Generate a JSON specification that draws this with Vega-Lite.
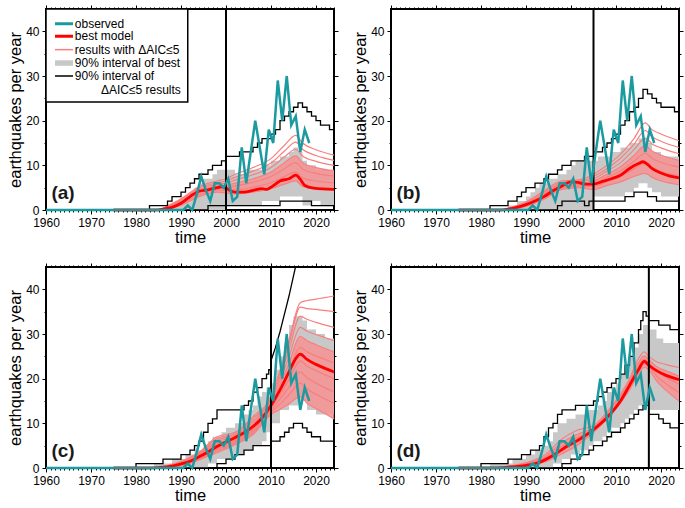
{
"$schema":"https://vega.github.io/schema/vega-lite/v6.json",
"background":"white",
"padding":{"left":6,"top":3,"right":0,"bottom":0},
"datasets":{
"obs":[{"x":1960,"y":0},{"x":1990.5,"y":0},{"x":1991.5,"y":1},{"x":1992.5,"y":0},{"x":1993.5,"y":3.5},{"x":1994.5,"y":7.5},{"x":1995.5,"y":4.5},{"x":1996.5,"y":2},{"x":1997.5,"y":6},{"x":1998.5,"y":6},{"x":1999.5,"y":5},{"x":2000.5,"y":7},{"x":2001.5,"y":2},{"x":2002.5,"y":3},{"x":2003.5,"y":14},{"x":2004.5,"y":6},{"x":2005.5,"y":13},{"x":2006.5,"y":20},{"x":2007.5,"y":14},{"x":2008.5,"y":8},{"x":2009.5,"y":18},{"x":2010.5,"y":15},{"x":2011.5,"y":29},{"x":2012.5,"y":20},{"x":2013.5,"y":30},{"x":2014.5,"y":19},{"x":2015.5,"y":21},{"x":2016.5,"y":13},{"x":2017.5,"y":18},{"x":2018.5,"y":15}],
"best":[
{"p":"a","x":1975,"y":0},{"p":"a","x":1984,"y":0},{"p":"a","x":1986,"y":0.2},{"p":"a","x":1988,"y":0.6},{"p":"a","x":1990,"y":1.5},{"p":"a","x":1992,"y":3},{"p":"a","x":1994,"y":4.2},{"p":"a","x":1996,"y":4.5},{"p":"a","x":1998,"y":5},{"p":"a","x":1999,"y":5.2},{"p":"a","x":2000,"y":4.9},{"p":"a","x":2001,"y":4.3},{"p":"a","x":2002,"y":4.0},{"p":"a","x":2004,"y":4.0},{"p":"a","x":2006,"y":4.4},{"p":"a","x":2008,"y":4.8},{"p":"a","x":2009,"y":4.6},{"p":"a","x":2010,"y":5.1},{"p":"a","x":2012,"y":6.5},{"p":"a","x":2014,"y":7.0},{"p":"a","x":2015.5,"y":7.8},{"p":"a","x":2016.5,"y":6.9},{"p":"a","x":2017.5,"y":5.5},{"p":"a","x":2019.5,"y":4.9},{"p":"a","x":2024,"y":4.6},
{"p":"b","x":1975,"y":0},{"p":"b","x":1984,"y":0},{"p":"b","x":1986,"y":0.2},{"p":"b","x":1988,"y":0.6},{"p":"b","x":1990,"y":1.2},{"p":"b","x":1992,"y":2.0},{"p":"b","x":1994,"y":3.0},{"p":"b","x":1996,"y":4.3},{"p":"b","x":1998,"y":5.4},{"p":"b","x":2000,"y":6.3},{"p":"b","x":2001.5,"y":6.2},{"p":"b","x":2003,"y":5.8},{"p":"b","x":2005,"y":5.8},{"p":"b","x":2007,"y":6.4},{"p":"b","x":2009,"y":7.0},{"p":"b","x":2011,"y":7.8},{"p":"b","x":2013,"y":9.3},{"p":"b","x":2015,"y":10.4},{"p":"b","x":2016,"y":10.8},{"p":"b","x":2017,"y":10.2},{"p":"b","x":2018,"y":9.3},{"p":"b","x":2020,"y":8.3},{"p":"b","x":2022,"y":7.6},{"p":"b","x":2024,"y":7.2},
{"p":"c","x":1975,"y":0},{"p":"c","x":1982,"y":0},{"p":"c","x":1985,"y":0.1},{"p":"c","x":1988,"y":0.4},{"p":"c","x":1990,"y":0.9},{"p":"c","x":1992,"y":1.5},{"p":"c","x":1994,"y":2.5},{"p":"c","x":1996,"y":3.6},{"p":"c","x":1998,"y":4.8},{"p":"c","x":2000,"y":5.8},{"p":"c","x":2002,"y":6.8},{"p":"c","x":2004,"y":7.9},{"p":"c","x":2006,"y":9.3},{"p":"c","x":2008,"y":11.2},{"p":"c","x":2010,"y":14.0},{"p":"c","x":2012,"y":17.5},{"p":"c","x":2014,"y":21.5},{"p":"c","x":2015.5,"y":24.5},{"p":"c","x":2016.5,"y":25.5},{"p":"c","x":2018,"y":24.3},{"p":"c","x":2020,"y":23.2},{"p":"c","x":2022,"y":22.3},{"p":"c","x":2024,"y":21.5},
{"p":"d","x":1975,"y":0},{"p":"d","x":1982,"y":0},{"p":"d","x":1986,"y":0.2},{"p":"d","x":1990,"y":0.6},{"p":"d","x":1993,"y":1.3},{"p":"d","x":1996,"y":2.8},{"p":"d","x":1999,"y":4.8},{"p":"d","x":2002,"y":6.5},{"p":"d","x":2005,"y":8.6},{"p":"d","x":2008,"y":11.3},{"p":"d","x":2011,"y":15.0},{"p":"d","x":2013,"y":18.5},{"p":"d","x":2015,"y":22.0},{"p":"d","x":2016.3,"y":23.9},{"p":"d","x":2017.3,"y":23.0},{"p":"d","x":2019,"y":21.8},{"p":"d","x":2021,"y":20.8},{"p":"d","x":2024,"y":19.8}],
"ens":[
{"p":"a","i":1,"x":1986,"y":0},{"p":"a","i":1,"x":1990,"y":1.0},{"p":"a","i":1,"x":1994,"y":3.0},{"p":"a","i":1,"x":1998,"y":4.0},{"p":"a","i":1,"x":2000,"y":3.8},{"p":"a","i":1,"x":2002,"y":3.6},{"p":"a","i":1,"x":2006,"y":4.0},{"p":"a","i":1,"x":2010,"y":4.8},{"p":"a","i":1,"x":2013,"y":5.8},{"p":"a","i":1,"x":2015.5,"y":6.5},{"p":"a","i":1,"x":2017,"y":5.3},{"p":"a","i":1,"x":2020,"y":4.7},{"p":"a","i":1,"x":2024,"y":4.5},
{"p":"a","i":2,"x":1986,"y":0.1},{"p":"a","i":2,"x":1990,"y":1.3},{"p":"a","i":2,"x":1994,"y":3.4},{"p":"a","i":2,"x":1998,"y":4.5},{"p":"a","i":2,"x":2000,"y":4.4},{"p":"a","i":2,"x":2002,"y":4.5},{"p":"a","i":2,"x":2006,"y":5.1},{"p":"a","i":2,"x":2010,"y":6.1},{"p":"a","i":2,"x":2013,"y":7.5},{"p":"a","i":2,"x":2015.5,"y":8.5},{"p":"a","i":2,"x":2017,"y":7.2},{"p":"a","i":2,"x":2020,"y":6.5},{"p":"a","i":2,"x":2024,"y":6.1},
{"p":"a","i":3,"x":1986,"y":0.2},{"p":"a","i":3,"x":1990,"y":1.6},{"p":"a","i":3,"x":1994,"y":3.9},{"p":"a","i":3,"x":1998,"y":5.0},{"p":"a","i":3,"x":2000,"y":5.1},{"p":"a","i":3,"x":2002,"y":5.4},{"p":"a","i":3,"x":2006,"y":6.2},{"p":"a","i":3,"x":2010,"y":7.5},{"p":"a","i":3,"x":2013,"y":9.3},{"p":"a","i":3,"x":2015.5,"y":10.6},{"p":"a","i":3,"x":2017,"y":9.2},{"p":"a","i":3,"x":2020,"y":8.2},{"p":"a","i":3,"x":2024,"y":7.6},
{"p":"a","i":4,"x":1986,"y":0.2},{"p":"a","i":4,"x":1990,"y":1.8},{"p":"a","i":4,"x":1994,"y":4.2},{"p":"a","i":4,"x":1998,"y":5.4},{"p":"a","i":4,"x":2000,"y":5.6},{"p":"a","i":4,"x":2002,"y":6.0},{"p":"a","i":4,"x":2006,"y":7.0},{"p":"a","i":4,"x":2010,"y":8.5},{"p":"a","i":4,"x":2013,"y":10.6},{"p":"a","i":4,"x":2015.5,"y":12.1},{"p":"a","i":4,"x":2017,"y":10.6},{"p":"a","i":4,"x":2020,"y":9.5},{"p":"a","i":4,"x":2024,"y":8.8},
{"p":"a","i":5,"x":1986,"y":0.3},{"p":"a","i":5,"x":1990,"y":2.1},{"p":"a","i":5,"x":1994,"y":4.5},{"p":"a","i":5,"x":1998,"y":5.8},{"p":"a","i":5,"x":2000,"y":6.0},{"p":"a","i":5,"x":2002,"y":6.7},{"p":"a","i":5,"x":2006,"y":7.9},{"p":"a","i":5,"x":2010,"y":9.5},{"p":"a","i":5,"x":2013,"y":11.9},{"p":"a","i":5,"x":2015.5,"y":13.6},{"p":"a","i":5,"x":2017,"y":12.1},{"p":"a","i":5,"x":2020,"y":10.9},{"p":"a","i":5,"x":2024,"y":10.0},
{"p":"a","i":6,"x":1986,"y":0.3},{"p":"a","i":6,"x":1990,"y":2.3},{"p":"a","i":6,"x":1994,"y":4.9},{"p":"a","i":6,"x":1998,"y":6.1},{"p":"a","i":6,"x":2000,"y":6.5},{"p":"a","i":6,"x":2002,"y":7.3},{"p":"a","i":6,"x":2006,"y":8.7},{"p":"a","i":6,"x":2010,"y":10.5},{"p":"a","i":6,"x":2013,"y":13.2},{"p":"a","i":6,"x":2015.5,"y":15.2},{"p":"a","i":6,"x":2017,"y":13.6},{"p":"a","i":6,"x":2020,"y":12.2},{"p":"a","i":6,"x":2024,"y":11.1},
{"p":"a","i":7,"x":1986,"y":0.4},{"p":"a","i":7,"x":1990,"y":2.5},{"p":"a","i":7,"x":1994,"y":5.2},{"p":"a","i":7,"x":1998,"y":6.5},{"p":"a","i":7,"x":2000,"y":7.0},{"p":"a","i":7,"x":2002,"y":8.0},{"p":"a","i":7,"x":2006,"y":9.5},{"p":"a","i":7,"x":2010,"y":11.5},{"p":"a","i":7,"x":2013,"y":14.5},{"p":"a","i":7,"x":2015.5,"y":16.7},{"p":"a","i":7,"x":2017,"y":15.0},{"p":"a","i":7,"x":2020,"y":13.5},{"p":"a","i":7,"x":2024,"y":12.3},
{"p":"b","i":1,"x":1986,"y":0},{"p":"b","i":1,"x":1990,"y":0.8},{"p":"b","i":1,"x":1994,"y":2.4},{"p":"b","i":1,"x":1998,"y":4.6},{"p":"b","i":1,"x":2002,"y":5.0},{"p":"b","i":1,"x":2005,"y":4.6},{"p":"b","i":1,"x":2008,"y":5.5},{"p":"b","i":1,"x":2011,"y":6.3},{"p":"b","i":1,"x":2014,"y":7.5},{"p":"b","i":1,"x":2016.5,"y":8.2},{"p":"b","i":1,"x":2018,"y":7.3},{"p":"b","i":1,"x":2020,"y":6.5},{"p":"b","i":1,"x":2024,"y":5.7},
{"p":"b","i":2,"x":1986,"y":0.1},{"p":"b","i":2,"x":1990,"y":1.0},{"p":"b","i":2,"x":1994,"y":2.8},{"p":"b","i":2,"x":1998,"y":4.9},{"p":"b","i":2,"x":2002,"y":5.4},{"p":"b","i":2,"x":2005,"y":5.3},{"p":"b","i":2,"x":2008,"y":6.4},{"p":"b","i":2,"x":2011,"y":7.5},{"p":"b","i":2,"x":2014,"y":9.2},{"p":"b","i":2,"x":2016.5,"y":10.5},{"p":"b","i":2,"x":2018,"y":9.4},{"p":"b","i":2,"x":2020,"y":8.6},{"p":"b","i":2,"x":2024,"y":7.7},
{"p":"b","i":3,"x":1986,"y":0.2},{"p":"b","i":3,"x":1990,"y":1.2},{"p":"b","i":3,"x":1994,"y":3.1},{"p":"b","i":3,"x":1998,"y":5.3},{"p":"b","i":3,"x":2002,"y":5.7},{"p":"b","i":3,"x":2005,"y":6.0},{"p":"b","i":3,"x":2008,"y":7.3},{"p":"b","i":3,"x":2011,"y":8.8},{"p":"b","i":3,"x":2014,"y":10.9},{"p":"b","i":3,"x":2016.5,"y":12.7},{"p":"b","i":3,"x":2018,"y":11.6},{"p":"b","i":3,"x":2020,"y":10.7},{"p":"b","i":3,"x":2024,"y":9.6},
{"p":"b","i":4,"x":1986,"y":0.2},{"p":"b","i":4,"x":1990,"y":1.4},{"p":"b","i":4,"x":1994,"y":3.4},{"p":"b","i":4,"x":1998,"y":5.6},{"p":"b","i":4,"x":2002,"y":6.0},{"p":"b","i":4,"x":2005,"y":6.5},{"p":"b","i":4,"x":2008,"y":8.0},{"p":"b","i":4,"x":2011,"y":9.7},{"p":"b","i":4,"x":2014,"y":12.2},{"p":"b","i":4,"x":2016.5,"y":14.4},{"p":"b","i":4,"x":2018,"y":13.2},{"p":"b","i":4,"x":2020,"y":12.3},{"p":"b","i":4,"x":2024,"y":11.1},
{"p":"b","i":5,"x":1986,"y":0.3},{"p":"b","i":5,"x":1990,"y":1.5},{"p":"b","i":5,"x":1994,"y":3.7},{"p":"b","i":5,"x":1998,"y":5.9},{"p":"b","i":5,"x":2002,"y":6.3},{"p":"b","i":5,"x":2005,"y":7.0},{"p":"b","i":5,"x":2008,"y":8.7},{"p":"b","i":5,"x":2011,"y":10.6},{"p":"b","i":5,"x":2014,"y":13.5},{"p":"b","i":5,"x":2016.5,"y":16.1},{"p":"b","i":5,"x":2018,"y":14.8},{"p":"b","i":5,"x":2020,"y":13.9},{"p":"b","i":5,"x":2024,"y":12.6},
{"p":"b","i":6,"x":1986,"y":0.3},{"p":"b","i":6,"x":1990,"y":1.7},{"p":"b","i":6,"x":1994,"y":4.0},{"p":"b","i":6,"x":1998,"y":6.2},{"p":"b","i":6,"x":2002,"y":6.5},{"p":"b","i":6,"x":2005,"y":7.5},{"p":"b","i":6,"x":2008,"y":9.3},{"p":"b","i":6,"x":2011,"y":11.6},{"p":"b","i":6,"x":2014,"y":14.7},{"p":"b","i":6,"x":2016.5,"y":17.8},{"p":"b","i":6,"x":2018,"y":16.4},{"p":"b","i":6,"x":2020,"y":15.4},{"p":"b","i":6,"x":2024,"y":14.0},
{"p":"b","i":7,"x":1986,"y":0.4},{"p":"b","i":7,"x":1990,"y":1.8},{"p":"b","i":7,"x":1994,"y":4.3},{"p":"b","i":7,"x":1998,"y":6.5},{"p":"b","i":7,"x":2002,"y":6.8},{"p":"b","i":7,"x":2005,"y":8.0},{"p":"b","i":7,"x":2008,"y":10.0},{"p":"b","i":7,"x":2011,"y":12.5},{"p":"b","i":7,"x":2014,"y":16.0},{"p":"b","i":7,"x":2016.5,"y":19.5},{"p":"b","i":7,"x":2018,"y":18.0},{"p":"b","i":7,"x":2020,"y":17.0},{"p":"b","i":7,"x":2024,"y":15.5},
{"p":"c","i":1,"x":1986,"y":0},{"p":"c","i":1,"x":1990,"y":0.5},{"p":"c","i":1,"x":1994,"y":1.8},{"p":"c","i":1,"x":1998,"y":3.4},{"p":"c","i":1,"x":2002,"y":5.2},{"p":"c","i":1,"x":2006,"y":7.5},{"p":"c","i":1,"x":2010,"y":12.0},{"p":"c","i":1,"x":2012,"y":13.1},{"p":"c","i":1,"x":2014,"y":14.4},{"p":"c","i":1,"x":2016.5,"y":16.0},{"p":"c","i":1,"x":2018,"y":14.5},{"p":"c","i":1,"x":2020,"y":13.3},{"p":"c","i":1,"x":2024,"y":11.0},
{"p":"c","i":2,"x":1986,"y":0},{"p":"c","i":2,"x":1990,"y":0.6},{"p":"c","i":2,"x":1994,"y":2.0},{"p":"c","i":2,"x":1998,"y":3.8},{"p":"c","i":2,"x":2002,"y":5.5},{"p":"c","i":2,"x":2006,"y":7.9},{"p":"c","i":2,"x":2010,"y":12.5},{"p":"c","i":2,"x":2012,"y":14.3},{"p":"c","i":2,"x":2014,"y":16.4},{"p":"c","i":2,"x":2016.5,"y":19.0},{"p":"c","i":2,"x":2018,"y":17.7},{"p":"c","i":2,"x":2020,"y":16.5},{"p":"c","i":2,"x":2024,"y":14.5},
{"p":"c","i":3,"x":1986,"y":0.1},{"p":"c","i":3,"x":1990,"y":0.7},{"p":"c","i":3,"x":1994,"y":2.2},{"p":"c","i":3,"x":1998,"y":4.2},{"p":"c","i":3,"x":2002,"y":5.8},{"p":"c","i":3,"x":2006,"y":8.4},{"p":"c","i":3,"x":2010,"y":13.0},{"p":"c","i":3,"x":2012,"y":15.4},{"p":"c","i":3,"x":2014,"y":18.1},{"p":"c","i":3,"x":2016.5,"y":21.5},{"p":"c","i":3,"x":2018,"y":20.2},{"p":"c","i":3,"x":2020,"y":19.0},{"p":"c","i":3,"x":2024,"y":17.0},
{"p":"c","i":4,"x":1986,"y":0.1},{"p":"c","i":4,"x":1990,"y":0.8},{"p":"c","i":4,"x":1994,"y":2.4},{"p":"c","i":4,"x":1998,"y":4.6},{"p":"c","i":4,"x":2002,"y":6.1},{"p":"c","i":4,"x":2006,"y":8.8},{"p":"c","i":4,"x":2010,"y":13.5},{"p":"c","i":4,"x":2012,"y":16.4},{"p":"c","i":4,"x":2014,"y":19.8},{"p":"c","i":4,"x":2016.5,"y":24.0},{"p":"c","i":4,"x":2018,"y":22.8},{"p":"c","i":4,"x":2020,"y":21.8},{"p":"c","i":4,"x":2024,"y":20.0},
{"p":"c","i":5,"x":1986,"y":0.1},{"p":"c","i":5,"x":1990,"y":0.9},{"p":"c","i":5,"x":1994,"y":2.6},{"p":"c","i":5,"x":1998,"y":5.0},{"p":"c","i":5,"x":2002,"y":6.4},{"p":"c","i":5,"x":2006,"y":9.3},{"p":"c","i":5,"x":2010,"y":14.0},{"p":"c","i":5,"x":2012,"y":17.6},{"p":"c","i":5,"x":2014,"y":21.8},{"p":"c","i":5,"x":2016.5,"y":27.0},{"p":"c","i":5,"x":2018,"y":26.0},{"p":"c","i":5,"x":2020,"y":25.1},{"p":"c","i":5,"x":2024,"y":23.5},
{"p":"c","i":6,"x":1986,"y":0.2},{"p":"c","i":6,"x":1990,"y":1.1},{"p":"c","i":6,"x":1994,"y":2.7},{"p":"c","i":6,"x":1998,"y":5.4},{"p":"c","i":6,"x":2002,"y":6.8},{"p":"c","i":6,"x":2006,"y":9.7},{"p":"c","i":6,"x":2010,"y":14.5},{"p":"c","i":6,"x":2012,"y":18.7},{"p":"c","i":6,"x":2014,"y":23.5},{"p":"c","i":6,"x":2016.5,"y":29.5},{"p":"c","i":6,"x":2018,"y":28.5},{"p":"c","i":6,"x":2020,"y":27.6},{"p":"c","i":6,"x":2024,"y":26.0},
{"p":"c","i":7,"x":1986,"y":0.2},{"p":"c","i":7,"x":1990,"y":1.2},{"p":"c","i":7,"x":1994,"y":2.9},{"p":"c","i":7,"x":1998,"y":5.8},{"p":"c","i":7,"x":2002,"y":7.1},{"p":"c","i":7,"x":2006,"y":10.2},{"p":"c","i":7,"x":2010,"y":15.0},{"p":"c","i":7,"x":2012,"y":19.6},{"p":"c","i":7,"x":2014,"y":24.9},{"p":"c","i":7,"x":2016.5,"y":31.5},{"p":"c","i":7,"x":2018,"y":30.6},{"p":"c","i":7,"x":2020,"y":29.9},{"p":"c","i":7,"x":2024,"y":28.5},
{"p":"c","i":8,"x":1986,"y":0.2},{"p":"c","i":8,"x":1990,"y":1.3},{"p":"c","i":8,"x":1994,"y":3.1},{"p":"c","i":8,"x":1998,"y":6.2},{"p":"c","i":8,"x":2002,"y":7.4},{"p":"c","i":8,"x":2006,"y":10.6},{"p":"c","i":8,"x":2010,"y":15.3},{"p":"c","i":8,"x":2012,"y":20.5},{"p":"c","i":8,"x":2014,"y":26.5},{"p":"c","i":8,"x":2016.5,"y":34.0},{"p":"c","i":8,"x":2018,"y":33.3},{"p":"c","i":8,"x":2020,"y":32.6},{"p":"c","i":8,"x":2024,"y":31.5},
{"p":"c","i":9,"x":1986,"y":0.3},{"p":"c","i":9,"x":1990,"y":1.4},{"p":"c","i":9,"x":1994,"y":3.3},{"p":"c","i":9,"x":1998,"y":6.6},{"p":"c","i":9,"x":2002,"y":7.7},{"p":"c","i":9,"x":2006,"y":11.1},{"p":"c","i":9,"x":2010,"y":15.6},{"p":"c","i":9,"x":2012,"y":21.3},{"p":"c","i":9,"x":2014,"y":27.8},{"p":"c","i":9,"x":2016.5,"y":36.0},{"p":"c","i":9,"x":2018,"y":35.7},{"p":"c","i":9,"x":2020,"y":35.5},{"p":"c","i":9,"x":2024,"y":35.0},
{"p":"c","i":10,"x":1986,"y":0.3},{"p":"c","i":10,"x":1990,"y":1.5},{"p":"c","i":10,"x":1994,"y":3.5},{"p":"c","i":10,"x":1998,"y":7.0},{"p":"c","i":10,"x":2002,"y":8.0},{"p":"c","i":10,"x":2006,"y":11.5},{"p":"c","i":10,"x":2010,"y":16.0},{"p":"c","i":10,"x":2012,"y":21.9},{"p":"c","i":10,"x":2014,"y":28.6},{"p":"c","i":10,"x":2016.5,"y":37.0},{"p":"c","i":10,"x":2018,"y":37.5},{"p":"c","i":10,"x":2020,"y":37.8},{"p":"c","i":10,"x":2024,"y":38.5},
{"p":"d","i":1,"x":1986,"y":0},{"p":"d","i":1,"x":1990,"y":0.3},{"p":"d","i":1,"x":1994,"y":1.3},{"p":"d","i":1,"x":1998,"y":3.2},{"p":"d","i":1,"x":2001,"y":4.8},{"p":"d","i":1,"x":2005,"y":8.0},{"p":"d","i":1,"x":2009,"y":12.0},{"p":"d","i":1,"x":2013,"y":17.5},{"p":"d","i":1,"x":2015,"y":21.0},{"p":"d","i":1,"x":2016.3,"y":22.5},{"p":"d","i":1,"x":2017.3,"y":22.0},{"p":"d","i":1,"x":2019,"y":19.5},{"p":"d","i":1,"x":2021,"y":17.5},{"p":"d","i":1,"x":2024,"y":15.0},
{"p":"d","i":2,"x":1986,"y":0.1},{"p":"d","i":2,"x":1990,"y":0.5},{"p":"d","i":2,"x":1994,"y":1.7},{"p":"d","i":2,"x":1998,"y":4.0},{"p":"d","i":2,"x":2001,"y":5.7},{"p":"d","i":2,"x":2005,"y":8.4},{"p":"d","i":2,"x":2009,"y":12.5},{"p":"d","i":2,"x":2013,"y":18.1},{"p":"d","i":2,"x":2015,"y":21.9},{"p":"d","i":2,"x":2016.3,"y":23.4},{"p":"d","i":2,"x":2017.3,"y":22.8},{"p":"d","i":2,"x":2019,"y":20.6},{"p":"d","i":2,"x":2021,"y":18.9},{"p":"d","i":2,"x":2024,"y":16.9},
{"p":"d","i":3,"x":1986,"y":0.2},{"p":"d","i":3,"x":1990,"y":0.8},{"p":"d","i":3,"x":1994,"y":2.1},{"p":"d","i":3,"x":1998,"y":4.9},{"p":"d","i":3,"x":2001,"y":6.6},{"p":"d","i":3,"x":2005,"y":8.8},{"p":"d","i":3,"x":2009,"y":12.9},{"p":"d","i":3,"x":2013,"y":18.8},{"p":"d","i":3,"x":2015,"y":22.8},{"p":"d","i":3,"x":2016.3,"y":24.3},{"p":"d","i":3,"x":2017.3,"y":23.5},{"p":"d","i":3,"x":2019,"y":21.7},{"p":"d","i":3,"x":2021,"y":20.4},{"p":"d","i":3,"x":2024,"y":18.8},
{"p":"d","i":4,"x":1986,"y":0.3},{"p":"d","i":4,"x":1990,"y":1.0},{"p":"d","i":4,"x":1994,"y":2.4},{"p":"d","i":4,"x":1998,"y":5.7},{"p":"d","i":4,"x":2001,"y":7.4},{"p":"d","i":4,"x":2005,"y":9.1},{"p":"d","i":4,"x":2009,"y":13.4},{"p":"d","i":4,"x":2013,"y":19.4},{"p":"d","i":4,"x":2015,"y":23.6},{"p":"d","i":4,"x":2016.3,"y":25.1},{"p":"d","i":4,"x":2017.3,"y":24.3},{"p":"d","i":4,"x":2019,"y":22.7},{"p":"d","i":4,"x":2021,"y":21.8},{"p":"d","i":4,"x":2024,"y":20.6},
{"p":"d","i":5,"x":1986,"y":0.4},{"p":"d","i":5,"x":1990,"y":1.2},{"p":"d","i":5,"x":1994,"y":2.8},{"p":"d","i":5,"x":1998,"y":6.5},{"p":"d","i":5,"x":2001,"y":8.3},{"p":"d","i":5,"x":2005,"y":9.5},{"p":"d","i":5,"x":2009,"y":13.8},{"p":"d","i":5,"x":2013,"y":20.0},{"p":"d","i":5,"x":2015,"y":24.5},{"p":"d","i":5,"x":2016.3,"y":26.0},{"p":"d","i":5,"x":2017.3,"y":25.0},{"p":"d","i":5,"x":2019,"y":23.8},{"p":"d","i":5,"x":2021,"y":23.2},{"p":"d","i":5,"x":2024,"y":22.5}],
"core":[
{"p":"a","x":1986,"lo":0,"hi":0.2},{"p":"a","x":1990,"lo":1.0,"hi":1.8},{"p":"a","x":1994,"lo":3.0,"hi":4.2},{"p":"a","x":1998,"lo":4.0,"hi":5.4},{"p":"a","x":2000,"lo":3.8,"hi":5.6},{"p":"a","x":2002,"lo":3.6,"hi":6.0},{"p":"a","x":2006,"lo":4.0,"hi":7.0},{"p":"a","x":2010,"lo":4.8,"hi":8.5},{"p":"a","x":2013,"lo":5.8,"hi":10.6},{"p":"a","x":2015.5,"lo":6.5,"hi":12.1},{"p":"a","x":2017,"lo":5.3,"hi":10.6},{"p":"a","x":2020,"lo":4.7,"hi":9.5},{"p":"a","x":2024,"lo":4.5,"hi":8.8},
{"p":"b","x":1986,"lo":0,"hi":0.2},{"p":"b","x":1990,"lo":0.8,"hi":1.4},{"p":"b","x":1994,"lo":2.4,"hi":3.4},{"p":"b","x":1998,"lo":4.6,"hi":5.6},{"p":"b","x":2002,"lo":5.0,"hi":6.0},{"p":"b","x":2005,"lo":4.6,"hi":6.5},{"p":"b","x":2008,"lo":5.5,"hi":8.0},{"p":"b","x":2011,"lo":6.3,"hi":9.7},{"p":"b","x":2014,"lo":7.5,"hi":12.2},{"p":"b","x":2016.5,"lo":8.2,"hi":14.4},{"p":"b","x":2018,"lo":7.3,"hi":13.2},{"p":"b","x":2020,"lo":6.5,"hi":12.3},{"p":"b","x":2024,"lo":5.7,"hi":11.1},
{"p":"c","x":1986,"lo":0,"hi":0.2},{"p":"c","x":1990,"lo":0.5,"hi":1.1},{"p":"c","x":1994,"lo":1.8,"hi":2.7},{"p":"c","x":1998,"lo":3.4,"hi":5.4},{"p":"c","x":2002,"lo":5.2,"hi":6.8},{"p":"c","x":2006,"lo":7.5,"hi":9.7},{"p":"c","x":2010,"lo":12.0,"hi":14.5},{"p":"c","x":2012,"lo":13.1,"hi":18.7},{"p":"c","x":2014,"lo":14.4,"hi":23.5},{"p":"c","x":2016.5,"lo":16.0,"hi":29.5},{"p":"c","x":2018,"lo":14.5,"hi":28.5},{"p":"c","x":2020,"lo":13.3,"hi":27.6},{"p":"c","x":2024,"lo":11.0,"hi":26.0},
{"p":"d","x":1986,"lo":0,"hi":0.3},{"p":"d","x":1990,"lo":0.3,"hi":1.0},{"p":"d","x":1994,"lo":1.3,"hi":2.4},{"p":"d","x":1998,"lo":3.2,"hi":5.7},{"p":"d","x":2001,"lo":4.8,"hi":7.4},{"p":"d","x":2005,"lo":8.0,"hi":9.1},{"p":"d","x":2009,"lo":12.0,"hi":13.4},{"p":"d","x":2013,"lo":17.5,"hi":19.4},{"p":"d","x":2015,"lo":21.0,"hi":23.6},{"p":"d","x":2016.3,"lo":22.5,"hi":25.1},{"p":"d","x":2017.3,"lo":22.0,"hi":24.3},{"p":"d","x":2019,"lo":19.5,"hi":22.7},{"p":"d","x":2021,"lo":17.5,"hi":21.8},{"p":"d","x":2024,"lo":15.0,"hi":20.6}],
"band":[
{"p":"a","x":1960,"lo":0,"hi":0},{"p":"a","x":1987,"lo":0,"hi":1},{"p":"a","x":1989,"lo":0,"hi":2},{"p":"a","x":1991,"lo":0,"hi":3},{"p":"a","x":1992,"lo":0,"hi":4},{"p":"a","x":1993,"lo":0,"hi":5},{"p":"a","x":1994,"lo":0,"hi":6},{"p":"a","x":1995,"lo":0,"hi":7},{"p":"a","x":1997,"lo":0,"hi":8},{"p":"a","x":1998,"lo":0,"hi":9},{"p":"a","x":2000,"lo":1,"hi":9},{"p":"a","x":2002,"lo":1,"hi":8},{"p":"a","x":2005,"lo":1,"hi":9},{"p":"a","x":2008,"lo":2,"hi":10},{"p":"a","x":2010,"lo":2,"hi":11},{"p":"a","x":2012,"lo":3,"hi":12},{"p":"a","x":2014,"lo":3,"hi":13},{"p":"a","x":2015,"lo":3,"hi":14},{"p":"a","x":2016,"lo":3,"hi":13},{"p":"a","x":2017,"lo":1,"hi":11},{"p":"a","x":2018,"lo":1,"hi":10},{"p":"a","x":2019,"lo":2,"hi":10},{"p":"a","x":2020,"lo":2,"hi":9},{"p":"a","x":2021,"lo":1,"hi":9},{"p":"a","x":2024,"lo":1,"hi":9},
{"p":"b","x":1960,"lo":0,"hi":0},{"p":"b","x":1986,"lo":0,"hi":1},{"p":"b","x":1988,"lo":0,"hi":2},{"p":"b","x":1990,"lo":0,"hi":3},{"p":"b","x":1991,"lo":0,"hi":4},{"p":"b","x":1992,"lo":0,"hi":5},{"p":"b","x":1993,"lo":0,"hi":6},{"p":"b","x":1995,"lo":0,"hi":7},{"p":"b","x":1997,"lo":0,"hi":8},{"p":"b","x":1999,"lo":0,"hi":9},{"p":"b","x":2000,"lo":0,"hi":10},{"p":"b","x":2001,"lo":0,"hi":11},{"p":"b","x":2005,"lo":3,"hi":11},{"p":"b","x":2006,"lo":3,"hi":12},{"p":"b","x":2009,"lo":3,"hi":13},{"p":"b","x":2011,"lo":3,"hi":14},{"p":"b","x":2012,"lo":4,"hi":14},{"p":"b","x":2013,"lo":4,"hi":15},{"p":"b","x":2014,"lo":5,"hi":15},{"p":"b","x":2015,"lo":6,"hi":16},{"p":"b","x":2017,"lo":5,"hi":15},{"p":"b","x":2018,"lo":4,"hi":13},{"p":"b","x":2020,"lo":3,"hi":12},{"p":"b","x":2024,"lo":3,"hi":12},
{"p":"c","x":1960,"lo":0,"hi":0},{"p":"c","x":1984,"lo":0,"hi":1},{"p":"c","x":1988,"lo":0,"hi":2},{"p":"c","x":1991,"lo":0,"hi":3},{"p":"c","x":1993,"lo":0,"hi":4},{"p":"c","x":1995,"lo":0,"hi":5},{"p":"c","x":1996,"lo":1,"hi":6},{"p":"c","x":1997,"lo":1,"hi":7},{"p":"c","x":1998,"lo":2,"hi":7},{"p":"c","x":1999,"lo":2,"hi":8},{"p":"c","x":2000,"lo":2,"hi":9},{"p":"c","x":2002,"lo":3,"hi":10},{"p":"c","x":2004,"lo":4,"hi":12},{"p":"c","x":2005,"lo":4,"hi":13},{"p":"c","x":2006,"lo":5,"hi":14},{"p":"c","x":2007,"lo":5,"hi":16},{"p":"c","x":2008,"lo":6,"hi":17},{"p":"c","x":2009,"lo":8,"hi":18},{"p":"c","x":2010,"lo":10,"hi":19},{"p":"c","x":2011,"lo":10,"hi":22},{"p":"c","x":2012,"lo":13,"hi":25},{"p":"c","x":2013,"lo":13,"hi":28},{"p":"c","x":2014,"lo":14,"hi":32},{"p":"c","x":2015,"lo":14,"hi":34},{"p":"c","x":2016,"lo":15,"hi":34},{"p":"c","x":2017,"lo":15,"hi":33},{"p":"c","x":2018,"lo":13,"hi":31},{"p":"c","x":2020,"lo":12,"hi":30},{"p":"c","x":2022,"lo":12,"hi":29},{"p":"c","x":2024,"lo":12,"hi":29},
{"p":"d","x":1960,"lo":0,"hi":0},{"p":"d","x":1982,"lo":0,"hi":1},{"p":"d","x":1987,"lo":0,"hi":2},{"p":"d","x":1990,"lo":0,"hi":3},{"p":"d","x":1992,"lo":0,"hi":4},{"p":"d","x":1994,"lo":0,"hi":5},{"p":"d","x":1995,"lo":0,"hi":6},{"p":"d","x":1996,"lo":1,"hi":8},{"p":"d","x":1997,"lo":1,"hi":10},{"p":"d","x":1998,"lo":2,"hi":10},{"p":"d","x":1999,"lo":2,"hi":11},{"p":"d","x":2000,"lo":3,"hi":11},{"p":"d","x":2001,"lo":3,"hi":12},{"p":"d","x":2002,"lo":4,"hi":12},{"p":"d","x":2004,"lo":5,"hi":13},{"p":"d","x":2005,"lo":6,"hi":13},{"p":"d","x":2006,"lo":6,"hi":14},{"p":"d","x":2007,"lo":7,"hi":15},{"p":"d","x":2008,"lo":8,"hi":17},{"p":"d","x":2009,"lo":9,"hi":18},{"p":"d","x":2010,"lo":9,"hi":19},{"p":"d","x":2011,"lo":10,"hi":21},{"p":"d","x":2012,"lo":11,"hi":22},{"p":"d","x":2013,"lo":12,"hi":25},{"p":"d","x":2014,"lo":13,"hi":27},{"p":"d","x":2015,"lo":14,"hi":30},{"p":"d","x":2016,"lo":15,"hi":32},{"p":"d","x":2017.3,"lo":13,"hi":31},{"p":"d","x":2019,"lo":13,"hi":29},{"p":"d","x":2020.5,"lo":13,"hi":28},{"p":"d","x":2024,"lo":13,"hi":28}],
"ci":[
{"p":"a","g":"u1","x":1960,"y":0},{"p":"a","g":"u1","x":1983,"y":1},{"p":"a","g":"u1","x":1987,"y":2},{"p":"a","g":"u1","x":1988,"y":3},{"p":"a","g":"u1","x":1990,"y":4},{"p":"a","g":"u1","x":1991,"y":5},{"p":"a","g":"u1","x":1992,"y":6},{"p":"a","g":"u1","x":1993,"y":7},{"p":"a","g":"u1","x":1994,"y":8},{"p":"a","g":"u1","x":1996,"y":9},{"p":"a","g":"u1","x":1997,"y":10},{"p":"a","g":"u1","x":1999,"y":11},{"p":"a","g":"u1","x":2000,"y":11},
{"p":"a","g":"u2","x":2000,"y":12},{"p":"a","g":"u2","x":2003,"y":13},{"p":"a","g":"u2","x":2006,"y":14},{"p":"a","g":"u2","x":2007,"y":15},{"p":"a","g":"u2","x":2008,"y":16},{"p":"a","g":"u2","x":2010,"y":17},{"p":"a","g":"u2","x":2011,"y":18},{"p":"a","g":"u2","x":2012,"y":20},{"p":"a","g":"u2","x":2013,"y":21},{"p":"a","g":"u2","x":2014,"y":22},{"p":"a","g":"u2","x":2015,"y":23},{"p":"a","g":"u2","x":2016,"y":24},{"p":"a","g":"u2","x":2017,"y":23},{"p":"a","g":"u2","x":2018,"y":22},{"p":"a","g":"u2","x":2019,"y":21},{"p":"a","g":"u2","x":2020,"y":20},{"p":"a","g":"u2","x":2021,"y":19},{"p":"a","g":"u2","x":2023,"y":18},{"p":"a","g":"u2","x":2024,"y":18},
{"p":"a","g":"l1","x":1960,"y":0},{"p":"a","g":"l1","x":1996,"y":1},{"p":"a","g":"l1","x":2000,"y":1},
{"p":"a","g":"l2","x":2000,"y":1},{"p":"a","g":"l2","x":2012,"y":2},{"p":"a","g":"l2","x":2019,"y":1},{"p":"a","g":"l2","x":2024,"y":1},
{"p":"b","g":"u1","x":1960,"y":0},{"p":"b","g":"u1","x":1982,"y":1},{"p":"b","g":"u1","x":1986,"y":2},{"p":"b","g":"u1","x":1988,"y":3},{"p":"b","g":"u1","x":1989,"y":4},{"p":"b","g":"u1","x":1990,"y":5},{"p":"b","g":"u1","x":1992,"y":6},{"p":"b","g":"u1","x":1994,"y":7},{"p":"b","g":"u1","x":1995,"y":8},{"p":"b","g":"u1","x":1997,"y":9},{"p":"b","g":"u1","x":1998,"y":10},{"p":"b","g":"u1","x":2000,"y":11},{"p":"b","g":"u1","x":2003,"y":12},{"p":"b","g":"u1","x":2005,"y":12},
{"p":"b","g":"u2","x":2005,"y":13},{"p":"b","g":"u2","x":2007,"y":14},{"p":"b","g":"u2","x":2008,"y":15},{"p":"b","g":"u2","x":2009,"y":16},{"p":"b","g":"u2","x":2010,"y":17},{"p":"b","g":"u2","x":2011,"y":19},{"p":"b","g":"u2","x":2012,"y":20},{"p":"b","g":"u2","x":2013,"y":22},{"p":"b","g":"u2","x":2014,"y":23},{"p":"b","g":"u2","x":2015,"y":25},{"p":"b","g":"u2","x":2016,"y":27},{"p":"b","g":"u2","x":2017,"y":26},{"p":"b","g":"u2","x":2018,"y":25},{"p":"b","g":"u2","x":2019,"y":24},{"p":"b","g":"u2","x":2020,"y":23},{"p":"b","g":"u2","x":2023,"y":22},{"p":"b","g":"u2","x":2024,"y":22},
{"p":"b","g":"l1","x":1960,"y":0},{"p":"b","g":"l1","x":1997,"y":1},{"p":"b","g":"l1","x":1998,"y":2},{"p":"b","g":"l1","x":2003,"y":1},{"p":"b","g":"l1","x":2004,"y":2},{"p":"b","g":"l1","x":2005,"y":2},
{"p":"b","g":"l2","x":2005,"y":2},{"p":"b","g":"l2","x":2012,"y":3},{"p":"b","g":"l2","x":2014,"y":4},{"p":"b","g":"l2","x":2017,"y":3},{"p":"b","g":"l2","x":2019,"y":2},{"p":"b","g":"l2","x":2024,"y":2},
{"p":"c","g":"u1","x":1960,"y":0},{"p":"c","g":"u1","x":1980,"y":1},{"p":"c","g":"u1","x":1986,"y":2},{"p":"c","g":"u1","x":1990,"y":3},{"p":"c","g":"u1","x":1992,"y":4},{"p":"c","g":"u1","x":1993,"y":5},{"p":"c","g":"u1","x":1994,"y":6},{"p":"c","g":"u1","x":1995,"y":8},{"p":"c","g":"u1","x":1996,"y":10},{"p":"c","g":"u1","x":1997,"y":11},{"p":"c","g":"u1","x":1998,"y":13},{"p":"c","g":"u1","x":2004,"y":14},{"p":"c","g":"u1","x":2005,"y":15},{"p":"c","g":"u1","x":2006,"y":17},{"p":"c","g":"u1","x":2007,"y":18},{"p":"c","g":"u1","x":2008,"y":20},{"p":"c","g":"u1","x":2009,"y":21},{"p":"c","g":"u1","x":2009.5,"y":22},{"p":"c","g":"u1","x":2010,"y":23},
{"p":"c","g":"l1","x":1960,"y":0},{"p":"c","g":"l1","x":1998,"y":1},{"p":"c","g":"l1","x":2000,"y":2},{"p":"c","g":"l1","x":2002,"y":3},{"p":"c","g":"l1","x":2004,"y":4},{"p":"c","g":"l1","x":2006,"y":5},{"p":"c","g":"l1","x":2010,"y":5},
{"p":"c","g":"l2","x":2010,"y":6},{"p":"c","g":"l2","x":2012,"y":7},{"p":"c","g":"l2","x":2013,"y":8},{"p":"c","g":"l2","x":2014,"y":9},{"p":"c","g":"l2","x":2015,"y":10},{"p":"c","g":"l2","x":2017,"y":9},{"p":"c","g":"l2","x":2018,"y":8},{"p":"c","g":"l2","x":2019,"y":7},{"p":"c","g":"l2","x":2021,"y":6},{"p":"c","g":"l2","x":2024,"y":6},
{"p":"d","g":"u1","x":1960,"y":0},{"p":"d","g":"u1","x":1980,"y":1},{"p":"d","g":"u1","x":1986,"y":2},{"p":"d","g":"u1","x":1989,"y":3},{"p":"d","g":"u1","x":1991,"y":4},{"p":"d","g":"u1","x":1993,"y":5},{"p":"d","g":"u1","x":1994,"y":7},{"p":"d","g":"u1","x":1995,"y":9},{"p":"d","g":"u1","x":1996,"y":10},{"p":"d","g":"u1","x":1997,"y":12},{"p":"d","g":"u1","x":1998,"y":13},{"p":"d","g":"u1","x":2001,"y":14},{"p":"d","g":"u1","x":2005,"y":15},{"p":"d","g":"u1","x":2006,"y":16},{"p":"d","g":"u1","x":2007,"y":17},{"p":"d","g":"u1","x":2008,"y":18},{"p":"d","g":"u1","x":2009,"y":19},{"p":"d","g":"u1","x":2010,"y":20},{"p":"d","g":"u1","x":2011,"y":21},{"p":"d","g":"u1","x":2012,"y":23},{"p":"d","g":"u1","x":2013,"y":25},{"p":"d","g":"u1","x":2014,"y":28},{"p":"d","g":"u1","x":2015,"y":31},{"p":"d","g":"u1","x":2015.5,"y":33},{"p":"d","g":"u1","x":2016,"y":35},{"p":"d","g":"u1","x":2016.7,"y":34},{"p":"d","g":"u1","x":2017.3,"y":34},
{"p":"d","g":"u2","x":2017.3,"y":33},{"p":"d","g":"u2","x":2019.5,"y":32},{"p":"d","g":"u2","x":2022,"y":31},{"p":"d","g":"u2","x":2024,"y":31},
{"p":"d","g":"l1","x":1960,"y":0},{"p":"d","g":"l1","x":1998,"y":1},{"p":"d","g":"l1","x":2000,"y":2},{"p":"d","g":"l1","x":2002,"y":3},{"p":"d","g":"l1","x":2004,"y":4},{"p":"d","g":"l1","x":2005,"y":5},{"p":"d","g":"l1","x":2007,"y":6},{"p":"d","g":"l1","x":2008,"y":7},{"p":"d","g":"l1","x":2009,"y":8},{"p":"d","g":"l1","x":2011,"y":9},{"p":"d","g":"l1","x":2012,"y":10},{"p":"d","g":"l1","x":2013,"y":11},{"p":"d","g":"l1","x":2014,"y":12},{"p":"d","g":"l1","x":2015,"y":13},{"p":"d","g":"l1","x":2016,"y":14},{"p":"d","g":"l1","x":2017.3,"y":14},
{"p":"d","g":"l2","x":2017.3,"y":12},{"p":"d","g":"l2","x":2019.5,"y":11},{"p":"d","g":"l2","x":2020.5,"y":10},{"p":"d","g":"l2","x":2022,"y":9},{"p":"d","g":"l2","x":2024,"y":9}],
"cic":[{"x":2010,"y":24},{"x":2011,"y":27},{"x":2012,"y":30.5},{"x":2013,"y":34.5},{"x":2014,"y":38.5},{"x":2015,"y":43},{"x":2016,"y":47.5}],
"cut":[{"p":"a","x":2000},{"p":"b","x":2005},{"p":"c","x":2010},{"p":"d","x":2017.3}],
"lab":[{"p":"a","t":"(a)"},{"p":"b","t":"(b)"},{"p":"c","t":"(c)"},{"p":"d","t":"(d)"}],
"one":[{"k":1}]
},
"columns":2,
"spacing":57,
"bounds":"flush",
"concat":[
{"width":288,"height":201,"resolve":{"axis":{"x":"independent","y":"independent"}},
"layer":[
{"data":{"name":"band"},"transform":[{"filter":"datum.p=='a'"}],"mark":{"type":"area","interpolate":"step-after","color":"#c8c8c8","opacity":1},
"encoding":{"x":{"field":"x","type":"quantitative","scale":{"domain":[1960,2024],"nice":false,"zero":false},"axis":{"orient":"bottom","values":[1960,1970,1980,1990,2000,2010,2020],"format":"d","tickSize":4,"labelPadding":3,"labelFlush":false,"labelOverlap":false,"title":"time","titlePadding":1}},
"y":{"field":"lo","type":"quantitative","scale":{"domain":[0,45],"nice":false,"zero":false},"axis":{"orient":"left","values":[0,10,20,30,40],"tickSize":4,"labelPadding":3,"title":"earthquakes per year","titlePadding":2}},
"y2":{"field":"hi"}}},
{"data":{"name":"core"},"transform":[{"filter":"datum.p=='a'"}],"mark":{"type":"area","interpolate":"monotone","color":"#f99090","opacity":0.8},
"encoding":{"x":{"field":"x","type":"quantitative","axis":{"orient":"top","values":[1960,1970,1980,1990,2000,2010,2020],"tickSize":4,"labels":false,"title":null}},"y":{"field":"lo","type":"quantitative","axis":{"orient":"right","values":[0,10,20,30,40],"tickSize":4,"labels":false,"title":null}},"y2":{"field":"hi"}}},
{"data":{"name":"ens"},"transform":[{"filter":"datum.p=='a'"}],"mark":{"type":"line","interpolate":"monotone","strokeWidth":1.2,"color":"#f77f7f"},
"encoding":{"x":{"field":"x","type":"quantitative","axis":{"orient":"bottom","values":[1960,1961,1962,1963,1964,1965,1966,1967,1968,1969,1970,1971,1972,1973,1974,1975,1976,1977,1978,1979,1980,1981,1982,1983,1984,1985,1986,1987,1988,1989,1990,1991,1992,1993,1994,1995,1996,1997,1998,1999,2000,2001,2002,2003,2004,2005,2006,2007,2008,2009,2010,2011,2012,2013,2014,2015,2016,2017,2018,2019,2020,2021,2022,2023,2024],"tickSize":2,"labels":false,"title":null}},"y":{"field":"y","type":"quantitative","axis":{"orient":"left","values":[5,15,25,35],"tickSize":2,"labels":false,"title":null}},"detail":{"field":"i","type":"nominal"}}},
{"data":{"name":"ci"},"transform":[{"filter":"datum.p=='a'"}],"mark":{"type":"line","interpolate":"step-after","strokeWidth":1.3,"color":"black"},
"encoding":{"x":{"field":"x","type":"quantitative","axis":{"orient":"top","values":[1960,1961,1962,1963,1964,1965,1966,1967,1968,1969,1970,1971,1972,1973,1974,1975,1976,1977,1978,1979,1980,1981,1982,1983,1984,1985,1986,1987,1988,1989,1990,1991,1992,1993,1994,1995,1996,1997,1998,1999,2000,2001,2002,2003,2004,2005,2006,2007,2008,2009,2010,2011,2012,2013,2014,2015,2016,2017,2018,2019,2020,2021,2022,2023,2024],"tickSize":2,"labels":false,"title":null}},"y":{"field":"y","type":"quantitative","axis":{"orient":"right","values":[5,15,25,35],"tickSize":2,"labels":false,"title":null}},"detail":{"field":"g","type":"nominal"}}},
{"data":{"name":"best"},"transform":[{"filter":"datum.p=='a'"}],"mark":{"type":"line","interpolate":"monotone","strokeWidth":2.8,"color":"#ff0000"},
"encoding":{"x":{"field":"x","type":"quantitative","axis":null},"y":{"field":"y","type":"quantitative","axis":null}}},
{"data":{"name":"cut"},"transform":[{"filter":"datum.p=='a'"}],"mark":{"type":"rule","color":"black","strokeWidth":2},"encoding":{"x":{"field":"x","type":"quantitative","axis":null}}},
{"data":{"name":"obs"},"mark":{"type":"line","strokeWidth":2.5,"color":"#1b9aa0"},"encoding":{"x":{"field":"x","type":"quantitative","axis":null},"y":{"field":"y","type":"quantitative","axis":null}}},
{"data":{"name":"lab"},"transform":[{"filter":"datum.p=='a'"}],"mark":{"type":"text","fontSize":19,"fontWeight":"bold","align":"left","baseline":"alphabetic","color":"#1a1a1a"},"encoding":{"x":{"datum":1961.2,"type":"quantitative","axis":null},"y":{"datum":2.4,"type":"quantitative","axis":null},"text":{"field":"t"}}},
{"data":{"name":"one"},"mark":{"type":"rect","fill":"white","stroke":"black","strokeWidth":1.5},"encoding":{"x":{"datum":1960,"type":"quantitative","axis":null},"x2":{"datum":1991.5},"y":{"datum":45,"type":"quantitative","axis":null},"y2":{"datum":24.2}}},
{"data":{"name":"one"},"mark":{"type":"rule","color":"#1b9aa0","strokeWidth":3},"encoding":{"x":{"datum":1962,"type":"quantitative","axis":null},"x2":{"datum":1966},"y":{"datum":41.7,"type":"quantitative","axis":null}}},
{"data":{"name":"one"},"mark":{"type":"rule","color":"#ff0000","strokeWidth":3},"encoding":{"x":{"datum":1962,"type":"quantitative","axis":null},"x2":{"datum":1966},"y":{"datum":38.9,"type":"quantitative","axis":null}}},
{"data":{"name":"one"},"mark":{"type":"rule","color":"#f77f7f","strokeWidth":1.5},"encoding":{"x":{"datum":1962,"type":"quantitative","axis":null},"x2":{"datum":1966},"y":{"datum":35.9,"type":"quantitative","axis":null}}},
{"data":{"name":"one"},"mark":{"type":"rule","color":"#c8c8c8","strokeWidth":5.5},"encoding":{"x":{"datum":1962,"type":"quantitative","axis":null},"x2":{"datum":1966},"y":{"datum":32.9,"type":"quantitative","axis":null}}},
{"data":{"name":"one"},"mark":{"type":"rule","color":"black","strokeWidth":1.5},"encoding":{"x":{"datum":1962,"type":"quantitative","axis":null},"x2":{"datum":1966},"y":{"datum":30.0,"type":"quantitative","axis":null}}},
{"data":{"values":[{"t":"observed"}]},"mark":{"type":"text","fontSize":12,"align":"left","baseline":"middle","color":"black"},"encoding":{"x":{"datum":1966.4,"type":"quantitative","axis":null},"y":{"datum":41.7,"type":"quantitative","axis":null},"text":{"field":"t"}}},
{"data":{"values":[{"t":"best model"}]},"mark":{"type":"text","fontSize":12,"align":"left","baseline":"middle","color":"black"},"encoding":{"x":{"datum":1966.4,"type":"quantitative","axis":null},"y":{"datum":38.9,"type":"quantitative","axis":null},"text":{"field":"t"}}},
{"data":{"values":[{"t":"results with ΔAIC≤5"}]},"mark":{"type":"text","fontSize":12,"align":"left","baseline":"middle","color":"black"},"encoding":{"x":{"datum":1966.4,"type":"quantitative","axis":null},"y":{"datum":35.9,"type":"quantitative","axis":null},"text":{"field":"t"}}},
{"data":{"values":[{"t":"90% interval of best"}]},"mark":{"type":"text","fontSize":12,"align":"left","baseline":"middle","color":"black"},"encoding":{"x":{"datum":1966.4,"type":"quantitative","axis":null},"y":{"datum":32.9,"type":"quantitative","axis":null},"text":{"field":"t"}}},
{"data":{"values":[{"t":"90% interval of"}]},"mark":{"type":"text","fontSize":12,"align":"left","baseline":"middle","color":"black"},"encoding":{"x":{"datum":1966.4,"type":"quantitative","axis":null},"y":{"datum":30.0,"type":"quantitative","axis":null},"text":{"field":"t"}}},
{"data":{"values":[{"t":"ΔAIC≤5 results"}]},"mark":{"type":"text","fontSize":12,"align":"left","baseline":"middle","color":"black"},"encoding":{"x":{"datum":1972.2,"type":"quantitative","axis":null},"y":{"datum":26.9,"type":"quantitative","axis":null},"text":{"field":"t"}}}
]},
{"width":288,"height":201,"resolve":{"axis":{"x":"independent","y":"independent"}},
"layer":[
{"data":{"name":"band"},"transform":[{"filter":"datum.p=='b'"}],"mark":{"type":"area","interpolate":"step-after","color":"#c8c8c8","opacity":1},
"encoding":{"x":{"field":"x","type":"quantitative","scale":{"domain":[1960,2024],"nice":false,"zero":false},"axis":{"orient":"bottom","values":[1960,1970,1980,1990,2000,2010,2020],"format":"d","tickSize":4,"labelPadding":3,"labelFlush":false,"labelOverlap":false,"title":"time","titlePadding":1}},
"y":{"field":"lo","type":"quantitative","scale":{"domain":[0,45],"nice":false,"zero":false},"axis":{"orient":"left","values":[0,10,20,30,40],"tickSize":4,"labelPadding":3,"title":"earthquakes per year","titlePadding":2}},
"y2":{"field":"hi"}}},
{"data":{"name":"core"},"transform":[{"filter":"datum.p=='b'"}],"mark":{"type":"area","interpolate":"monotone","color":"#f99090","opacity":0.8},
"encoding":{"x":{"field":"x","type":"quantitative","axis":{"orient":"top","values":[1960,1970,1980,1990,2000,2010,2020],"tickSize":4,"labels":false,"title":null}},"y":{"field":"lo","type":"quantitative","axis":{"orient":"right","values":[0,10,20,30,40],"tickSize":4,"labels":false,"title":null}},"y2":{"field":"hi"}}},
{"data":{"name":"ens"},"transform":[{"filter":"datum.p=='b'"}],"mark":{"type":"line","interpolate":"monotone","strokeWidth":1.2,"color":"#f77f7f"},
"encoding":{"x":{"field":"x","type":"quantitative","axis":{"orient":"bottom","values":[1960,1961,1962,1963,1964,1965,1966,1967,1968,1969,1970,1971,1972,1973,1974,1975,1976,1977,1978,1979,1980,1981,1982,1983,1984,1985,1986,1987,1988,1989,1990,1991,1992,1993,1994,1995,1996,1997,1998,1999,2000,2001,2002,2003,2004,2005,2006,2007,2008,2009,2010,2011,2012,2013,2014,2015,2016,2017,2018,2019,2020,2021,2022,2023,2024],"tickSize":2,"labels":false,"title":null}},"y":{"field":"y","type":"quantitative","axis":{"orient":"left","values":[5,15,25,35],"tickSize":2,"labels":false,"title":null}},"detail":{"field":"i","type":"nominal"}}},
{"data":{"name":"ci"},"transform":[{"filter":"datum.p=='b'"}],"mark":{"type":"line","interpolate":"step-after","strokeWidth":1.3,"color":"black"},
"encoding":{"x":{"field":"x","type":"quantitative","axis":{"orient":"top","values":[1960,1961,1962,1963,1964,1965,1966,1967,1968,1969,1970,1971,1972,1973,1974,1975,1976,1977,1978,1979,1980,1981,1982,1983,1984,1985,1986,1987,1988,1989,1990,1991,1992,1993,1994,1995,1996,1997,1998,1999,2000,2001,2002,2003,2004,2005,2006,2007,2008,2009,2010,2011,2012,2013,2014,2015,2016,2017,2018,2019,2020,2021,2022,2023,2024],"tickSize":2,"labels":false,"title":null}},"y":{"field":"y","type":"quantitative","axis":{"orient":"right","values":[5,15,25,35],"tickSize":2,"labels":false,"title":null}},"detail":{"field":"g","type":"nominal"}}},
{"data":{"name":"best"},"transform":[{"filter":"datum.p=='b'"}],"mark":{"type":"line","interpolate":"monotone","strokeWidth":2.8,"color":"#ff0000"},
"encoding":{"x":{"field":"x","type":"quantitative","axis":null},"y":{"field":"y","type":"quantitative","axis":null}}},
{"data":{"name":"cut"},"transform":[{"filter":"datum.p=='b'"}],"mark":{"type":"rule","color":"black","strokeWidth":2},"encoding":{"x":{"field":"x","type":"quantitative","axis":null}}},
{"data":{"name":"obs"},"mark":{"type":"line","strokeWidth":2.5,"color":"#1b9aa0"},"encoding":{"x":{"field":"x","type":"quantitative","axis":null},"y":{"field":"y","type":"quantitative","axis":null}}},
{"data":{"name":"lab"},"transform":[{"filter":"datum.p=='b'"}],"mark":{"type":"text","fontSize":19,"fontWeight":"bold","align":"left","baseline":"alphabetic","color":"#1a1a1a"},"encoding":{"x":{"datum":1961.2,"type":"quantitative","axis":null},"y":{"datum":2.4,"type":"quantitative","axis":null},"text":{"field":"t"}}}
]},
{"width":288,"height":201,"resolve":{"axis":{"x":"independent","y":"independent"}},
"layer":[
{"data":{"name":"band"},"transform":[{"filter":"datum.p=='c'"}],"mark":{"type":"area","interpolate":"step-after","color":"#c8c8c8","opacity":1},
"encoding":{"x":{"field":"x","type":"quantitative","scale":{"domain":[1960,2024],"nice":false,"zero":false},"axis":{"orient":"bottom","values":[1960,1970,1980,1990,2000,2010,2020],"format":"d","tickSize":4,"labelPadding":3,"labelFlush":false,"labelOverlap":false,"title":"time","titlePadding":1}},
"y":{"field":"lo","type":"quantitative","scale":{"domain":[0,45],"nice":false,"zero":false},"axis":{"orient":"left","values":[0,10,20,30,40],"tickSize":4,"labelPadding":3,"title":"earthquakes per year","titlePadding":2}},
"y2":{"field":"hi"}}},
{"data":{"name":"core"},"transform":[{"filter":"datum.p=='c'"}],"mark":{"type":"area","interpolate":"monotone","color":"#f99090","opacity":0.8},
"encoding":{"x":{"field":"x","type":"quantitative","axis":{"orient":"top","values":[1960,1970,1980,1990,2000,2010,2020],"tickSize":4,"labels":false,"title":null}},"y":{"field":"lo","type":"quantitative","axis":{"orient":"right","values":[0,10,20,30,40],"tickSize":4,"labels":false,"title":null}},"y2":{"field":"hi"}}},
{"data":{"name":"ens"},"transform":[{"filter":"datum.p=='c'"}],"mark":{"type":"line","interpolate":"monotone","strokeWidth":1.2,"color":"#f77f7f"},
"encoding":{"x":{"field":"x","type":"quantitative","axis":{"orient":"bottom","values":[1960,1961,1962,1963,1964,1965,1966,1967,1968,1969,1970,1971,1972,1973,1974,1975,1976,1977,1978,1979,1980,1981,1982,1983,1984,1985,1986,1987,1988,1989,1990,1991,1992,1993,1994,1995,1996,1997,1998,1999,2000,2001,2002,2003,2004,2005,2006,2007,2008,2009,2010,2011,2012,2013,2014,2015,2016,2017,2018,2019,2020,2021,2022,2023,2024],"tickSize":2,"labels":false,"title":null}},"y":{"field":"y","type":"quantitative","axis":{"orient":"left","values":[5,15,25,35],"tickSize":2,"labels":false,"title":null}},"detail":{"field":"i","type":"nominal"}}},
{"data":{"name":"ci"},"transform":[{"filter":"datum.p=='c'"}],"mark":{"type":"line","interpolate":"step-after","strokeWidth":1.3,"color":"black"},
"encoding":{"x":{"field":"x","type":"quantitative","axis":{"orient":"top","values":[1960,1961,1962,1963,1964,1965,1966,1967,1968,1969,1970,1971,1972,1973,1974,1975,1976,1977,1978,1979,1980,1981,1982,1983,1984,1985,1986,1987,1988,1989,1990,1991,1992,1993,1994,1995,1996,1997,1998,1999,2000,2001,2002,2003,2004,2005,2006,2007,2008,2009,2010,2011,2012,2013,2014,2015,2016,2017,2018,2019,2020,2021,2022,2023,2024],"tickSize":2,"labels":false,"title":null}},"y":{"field":"y","type":"quantitative","axis":{"orient":"right","values":[5,15,25,35],"tickSize":2,"labels":false,"title":null}},"detail":{"field":"g","type":"nominal"}}},
{"data":{"name":"cic"},"mark":{"type":"line","strokeWidth":1.3,"color":"black","clip":true},
"encoding":{"x":{"field":"x","type":"quantitative","axis":null},"y":{"field":"y","type":"quantitative","axis":null}}},
{"data":{"name":"best"},"transform":[{"filter":"datum.p=='c'"}],"mark":{"type":"line","interpolate":"monotone","strokeWidth":2.8,"color":"#ff0000"},
"encoding":{"x":{"field":"x","type":"quantitative","axis":null},"y":{"field":"y","type":"quantitative","axis":null}}},
{"data":{"name":"cut"},"transform":[{"filter":"datum.p=='c'"}],"mark":{"type":"rule","color":"black","strokeWidth":2},"encoding":{"x":{"field":"x","type":"quantitative","axis":null}}},
{"data":{"name":"obs"},"mark":{"type":"line","strokeWidth":2.5,"color":"#1b9aa0"},"encoding":{"x":{"field":"x","type":"quantitative","axis":null},"y":{"field":"y","type":"quantitative","axis":null}}},
{"data":{"name":"lab"},"transform":[{"filter":"datum.p=='c'"}],"mark":{"type":"text","fontSize":19,"fontWeight":"bold","align":"left","baseline":"alphabetic","color":"#1a1a1a"},"encoding":{"x":{"datum":1961.2,"type":"quantitative","axis":null},"y":{"datum":2.4,"type":"quantitative","axis":null},"text":{"field":"t"}}}
]},
{"width":288,"height":201,"resolve":{"axis":{"x":"independent","y":"independent"}},
"layer":[
{"data":{"name":"band"},"transform":[{"filter":"datum.p=='d'"}],"mark":{"type":"area","interpolate":"step-after","color":"#c8c8c8","opacity":1},
"encoding":{"x":{"field":"x","type":"quantitative","scale":{"domain":[1960,2024],"nice":false,"zero":false},"axis":{"orient":"bottom","values":[1960,1970,1980,1990,2000,2010,2020],"format":"d","tickSize":4,"labelPadding":3,"labelFlush":false,"labelOverlap":false,"title":"time","titlePadding":1}},
"y":{"field":"lo","type":"quantitative","scale":{"domain":[0,45],"nice":false,"zero":false},"axis":{"orient":"left","values":[0,10,20,30,40],"tickSize":4,"labelPadding":3,"title":"earthquakes per year","titlePadding":2}},
"y2":{"field":"hi"}}},
{"data":{"name":"core"},"transform":[{"filter":"datum.p=='d'"}],"mark":{"type":"area","interpolate":"monotone","color":"#f99090","opacity":0.8},
"encoding":{"x":{"field":"x","type":"quantitative","axis":{"orient":"top","values":[1960,1970,1980,1990,2000,2010,2020],"tickSize":4,"labels":false,"title":null}},"y":{"field":"lo","type":"quantitative","axis":{"orient":"right","values":[0,10,20,30,40],"tickSize":4,"labels":false,"title":null}},"y2":{"field":"hi"}}},
{"data":{"name":"ens"},"transform":[{"filter":"datum.p=='d'"}],"mark":{"type":"line","interpolate":"monotone","strokeWidth":1.2,"color":"#f77f7f"},
"encoding":{"x":{"field":"x","type":"quantitative","axis":{"orient":"bottom","values":[1960,1961,1962,1963,1964,1965,1966,1967,1968,1969,1970,1971,1972,1973,1974,1975,1976,1977,1978,1979,1980,1981,1982,1983,1984,1985,1986,1987,1988,1989,1990,1991,1992,1993,1994,1995,1996,1997,1998,1999,2000,2001,2002,2003,2004,2005,2006,2007,2008,2009,2010,2011,2012,2013,2014,2015,2016,2017,2018,2019,2020,2021,2022,2023,2024],"tickSize":2,"labels":false,"title":null}},"y":{"field":"y","type":"quantitative","axis":{"orient":"left","values":[5,15,25,35],"tickSize":2,"labels":false,"title":null}},"detail":{"field":"i","type":"nominal"}}},
{"data":{"name":"ci"},"transform":[{"filter":"datum.p=='d'"}],"mark":{"type":"line","interpolate":"step-after","strokeWidth":1.3,"color":"black"},
"encoding":{"x":{"field":"x","type":"quantitative","axis":{"orient":"top","values":[1960,1961,1962,1963,1964,1965,1966,1967,1968,1969,1970,1971,1972,1973,1974,1975,1976,1977,1978,1979,1980,1981,1982,1983,1984,1985,1986,1987,1988,1989,1990,1991,1992,1993,1994,1995,1996,1997,1998,1999,2000,2001,2002,2003,2004,2005,2006,2007,2008,2009,2010,2011,2012,2013,2014,2015,2016,2017,2018,2019,2020,2021,2022,2023,2024],"tickSize":2,"labels":false,"title":null}},"y":{"field":"y","type":"quantitative","axis":{"orient":"right","values":[5,15,25,35],"tickSize":2,"labels":false,"title":null}},"detail":{"field":"g","type":"nominal"}}},
{"data":{"name":"best"},"transform":[{"filter":"datum.p=='d'"}],"mark":{"type":"line","interpolate":"monotone","strokeWidth":2.8,"color":"#ff0000"},
"encoding":{"x":{"field":"x","type":"quantitative","axis":null},"y":{"field":"y","type":"quantitative","axis":null}}},
{"data":{"name":"cut"},"transform":[{"filter":"datum.p=='d'"}],"mark":{"type":"rule","color":"black","strokeWidth":2},"encoding":{"x":{"field":"x","type":"quantitative","axis":null}}},
{"data":{"name":"obs"},"mark":{"type":"line","strokeWidth":2.5,"color":"#1b9aa0"},"encoding":{"x":{"field":"x","type":"quantitative","axis":null},"y":{"field":"y","type":"quantitative","axis":null}}},
{"data":{"name":"lab"},"transform":[{"filter":"datum.p=='d'"}],"mark":{"type":"text","fontSize":19,"fontWeight":"bold","align":"left","baseline":"alphabetic","color":"#1a1a1a"},"encoding":{"x":{"datum":1961.2,"type":"quantitative","axis":null},"y":{"datum":2.4,"type":"quantitative","axis":null},"text":{"field":"t"}}}
]}
],
"config":{
"font":"Liberation Sans",
"view":{"stroke":"black","strokeWidth":2},
"axis":{"domain":false,"grid":false,"ticks":true,"tickColor":"black","tickWidth":1,"labelColor":"black","labelFontSize":12,"labelFont":"Liberation Sans","titleFont":"Liberation Sans","titleFontSize":16.5,"titleFontWeight":"normal","titleColor":"black"}
}
}
